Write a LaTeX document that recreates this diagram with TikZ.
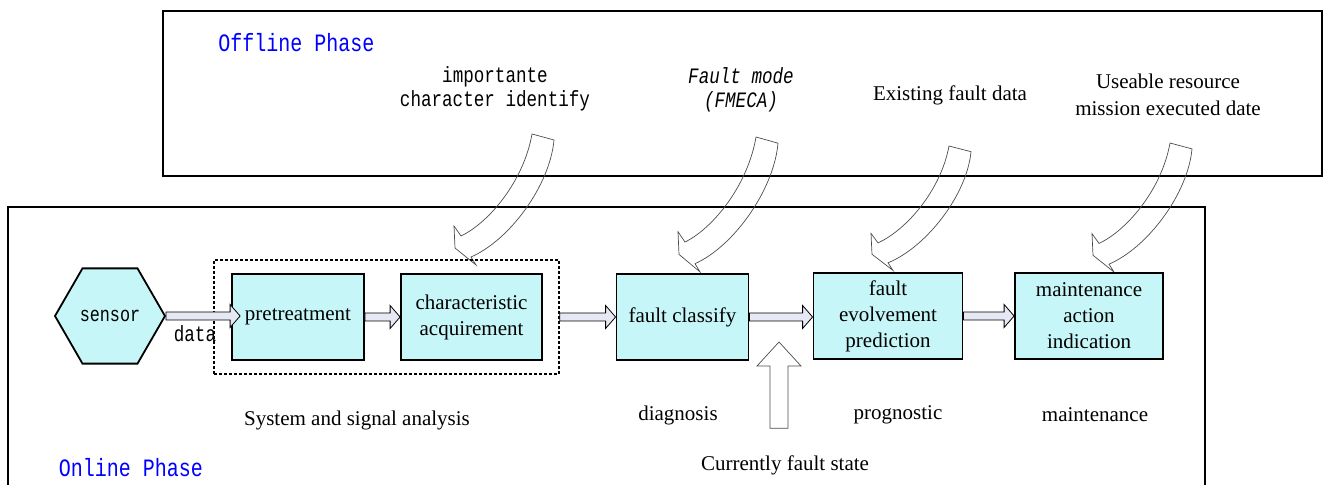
\documentclass[tikz,border=0pt]{standalone}
\usepackage{fontspec}
\setmainfont{Liberation Serif}
\newfontfamily\simmono[FakeStretch=0.8]{Liberation Mono}
\usetikzlibrary{shapes.geometric}
\usetikzlibrary{calc}

\definecolor{boxcyan}{RGB}{198,246,247}
\definecolor{arrowfill}{RGB}{230,233,244}
\definecolor{phaseblue}{RGB}{0,0,255}

\tikzset{
  stage/.style={draw, line width=0.9pt, fill=boxcyan, align=center, inner sep=0pt,
    minimum height=43pt, font=\fontsize{10.5}{13}\selectfont},
  phase/.style={text=phaseblue, font=\simmono\fontsize{12.5}{15}\selectfont},
  monolabel/.style={align=center, font=\simmono\fontsize{11}{12}\selectfont},
  serlabel/.style={align=center, font=\fontsize{10.5}{13.5}\selectfont},
  area/.style={draw, line width=1pt},
  blockarrow/.style={draw, line width=0.4pt, fill=arrowfill},
  hollow/.style={draw=black!70, line width=0.35pt},
  bendarrow/.pic={
    \draw[hollow] (0,0) .. controls (-8,46) and (-42,88) .. (-71,102) -- (-78,92)
      -- (-77,114) -- (-56,131) -- (-61,123) .. controls (-22,106) and (18,51) .. (22,6) -- cycle;}
}

% fat arrow from one anchor to another
\newcommand{\fatarrow}[2]{%
  \path[blockarrow] let \p1=(#1), \p2=(#2) in
    (\x1,\y1+2pt) -- (\x2-5pt,\y1+2pt) -- (\x2-5pt,\y1+5.75pt) -- (\x2,\y1)
    -- (\x2-5pt,\y1-5.75pt) -- (\x2-5pt,\y1-2pt) -- (\x1,\y1-2pt) -- cycle;}

\begin{document}
\begin{tikzpicture}[x=0.5pt, y=-0.5pt]
\useasboundingbox (0,0) rectangle (1324,485);
\clip (0,0) rectangle (1324,485);

% the two phases
\draw[area] (163,11) rectangle (1322,176);
\draw[area] (8,207) rectangle (1205,500);
\node[phase] (offl) at (296.5,43) {Offline Phase};
\node[phase] (onl) at (131,468) {Online Phase};

% offline knowledge
\node[monolabel] (imp) at (495,89) {importante\\character identify};
\node[monolabel, font=\simmono\itshape\fontsize{11}{12}\selectfont] (fm) at (741,90) {Fault mode\\(FMECA)};
\node[serlabel] (efd) at (950,95) {Existing fault data};
\node[serlabel] (ur) at (1168,94.5) {Useable resource\\mission executed date};

\pic at (532,134) {bendarrow};
\pic[yscale=1.03] at (756,137) {bendarrow};
\pic[yscale=0.95] at (949,146) {bendarrow};
\pic[yscale=0.985] at (1170,143) {bendarrow};

% online chain
\node[draw, line width=0.9pt, fill=boxcyan, regular polygon, regular polygon sides=6,
  minimum size=55pt, inner sep=0pt, font=\simmono\fontsize{10.5}{12}\selectfont] (sensor) at (110,316) {sensor};
\node[draw, dashed, dash pattern=on 1.5pt off 1pt, line width=0.8pt, minimum width=172.5pt,
  minimum height=57pt] (ssa) at (386.5,317) {};
\node[stage, minimum width=66pt] (pre) at (298,317) {pretreatment};
\node[stage, minimum width=70.5pt] (chr) at (471.5,317) {characteristic\\acquirement};
\node[stage, minimum width=66pt] (cls) at (682.5,317) {fault classify};
\node[stage, minimum width=74.5pt] (evo) at (888,316) {fault\\evolvement\\prediction};
\node[stage, minimum width=74pt] (mnt) at (1089,316) {maintenance\\action\\indication};

\fatarrow{sensor.east}{$(pre.west)+(9,0)$}
\fatarrow{pre.east}{chr.west}
\fatarrow{ssa.east}{cls.west}
\fatarrow{cls.east}{evo.west}
\fatarrow{evo.east}{mnt.west}
\node[monolabel] (data) at (195,334) {data};

% labels under the chain
\node[serlabel] (ssalbl) at (357,420) {System and signal analysis};
\node[serlabel] (diag) at (678,415) {diagnosis};
\node[serlabel] (prog) at (898,415) {prognostic};
\node[serlabel] (mntlbl) at (1095,415) {maintenance};
\node[serlabel] (cfs) at (785,465) {Currently fault state};

% current state feeds in
\coordinate (inject) at (779,342);
\path[hollow] let \p1=(cfs.north), \p2=(inject) in
  (\x2,\y2) -- (\x2+11pt,\y2-12pt) -- (\x2+4.5pt,\y2-12pt) -- (\x2+4.5pt,\y1+10pt)
  -- (\x2-4.5pt,\y1+10pt) -- (\x2-4.5pt,\y2-12pt) -- (\x2-11pt,\y2-12pt) -- cycle;
\end{tikzpicture}
\end{document}
